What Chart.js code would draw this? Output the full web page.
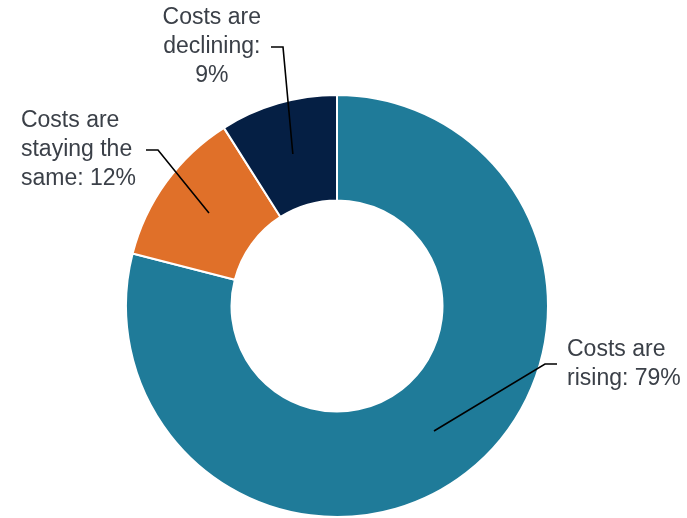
<!DOCTYPE html>
<html>
<head>
<meta charset="utf-8">
<script src="https://cdn.jsdelivr.net/npm/chart.js@4"></script>
<style>
  html, body { margin: 0; padding: 0; background: #fff; }
</style>
</head>
<body>
<canvas id="costChart" width="687" height="518"></canvas>
<script>
const categories = ['Costs are rising', 'Costs are staying the same', 'Costs are declining'];
const shares = [79, 12, 9];
const sliceColors = ['#1f7b99', '#e07029', '#051f44'];

// where each leader line bends, relative to the doughnut centre,
// and which side of the bend the label sits on
const calloutStyle = [
  { bend: [208, 58], side: 'right', align: 'left' },
  { bend: [-179, -156], side: 'left', align: 'left' },
  { bend: [-54, -259], side: 'left', align: 'center' },
];

function wrapText(ctx, text, maxWidth) {
  const words = text.split(' ');
  const lines = [];
  let line = '';
  words.forEach(w => {
    const test = line ? line + ' ' + w : w;
    if (line && ctx.measureText(test).width > maxWidth) {
      lines.push(line);
      line = w;
    } else {
      line = test;
    }
  });
  if (line) lines.push(line);
  return lines;
}

const calloutPlugin = {
  id: 'callouts',
  afterDatasetsDraw(chart) {
    const ctx = chart.ctx;
    const meta = chart.getDatasetMeta(0);
    const fontSize = 23;
    const lineHeight = 29;
    ctx.save();
    ctx.font = fontSize + 'px "Liberation Sans", Arial, sans-serif';
    meta.data.forEach((arc, i) => {
      const p = arc.getProps(['x', 'y', 'startAngle', 'endAngle', 'innerRadius', 'outerRadius'], true);
      const mid = (p.startAngle + p.endAngle) / 2;
      const r = (p.innerRadius + p.outerRadius) / 2;
      const sx = p.x + Math.cos(mid) * r;
      const sy = p.y + Math.sin(mid) * r;
      const st = calloutStyle[i];
      const bx = p.x + st.bend[0];
      const by = p.y + st.bend[1];
      const dir = st.side === 'right' ? 1 : -1;
      const tx = bx + dir * 12;

      ctx.strokeStyle = '#000';
      ctx.lineWidth = 1.6;
      ctx.beginPath();
      ctx.moveTo(sx, sy);
      ctx.lineTo(bx, by);
      ctx.lineTo(tx, by);
      ctx.stroke();

      const lines = wrapText(ctx, categories[i] + ': ' + shares[i] + '%', 122);
      const blockW = Math.max(...lines.map(l => ctx.measureText(l).width));
      const gap = 10;
      const left = dir > 0 ? tx + gap : tx - gap - blockW;
      const top = by - (lines.length - 1) * lineHeight / 2;
      ctx.fillStyle = '#3b4048';
      ctx.textBaseline = 'middle';
      ctx.textAlign = st.align;
      const x = st.align === 'center' ? left + blockW / 2 : left;
      lines.forEach((l, k) => ctx.fillText(l, x, top + k * lineHeight));
    });
    ctx.restore();
  }
};

new Chart(document.getElementById('costChart'), {
  type: 'doughnut',
  data: {
    labels: categories,
    datasets: [{
      data: shares,
      backgroundColor: sliceColors,
      borderColor: '#fff',
      borderWidth: 2,
    }]
  },
  options: {
    responsive: false,
    animation: false,
    cutout: '50%',
    layout: {
      padding: { left: 125, right: 138, top: 94, bottom: 0 }
    },
    plugins: {
      legend: { display: false },
      tooltip: { enabled: false },
    }
  },
  plugins: [calloutPlugin]
});
</script>
</body>
</html>
